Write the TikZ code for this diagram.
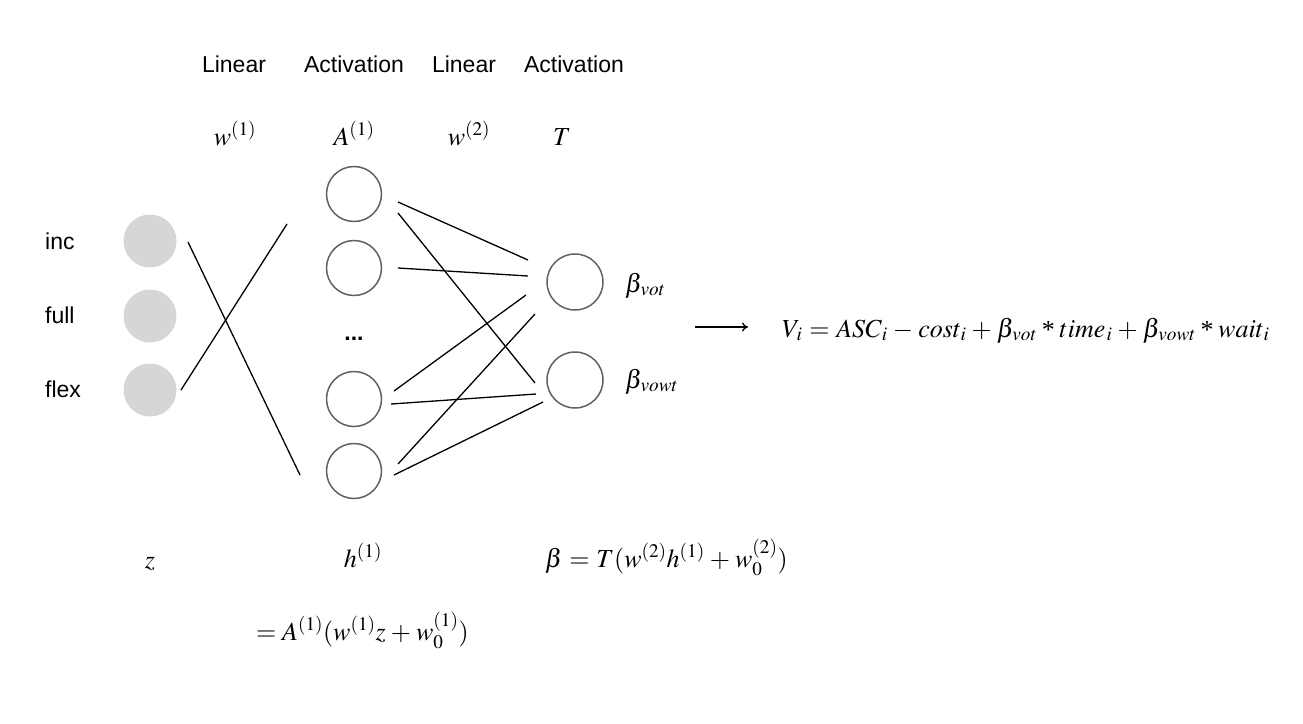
\documentclass[tikz,border=0pt]{standalone}
\usepackage{mathptmx}
\usepackage[no-math]{fontspec}
\setmainfont{Liberation Serif}
\setsansfont{Liberation Sans}
\usetikzlibrary{arrows.meta}
\newcommand{\mysb}[1]{_{\kern1.2pt #1}}
\newcommand{\myast}{\mathbin{\kern1pt\raisebox{-0.15ex}{*}\kern1pt}}
\newcommand{\mypl}{\mathbin{\kern1.5pt+\kern1.5pt}}
\newcommand{\mymi}{\mathbin{\kern1.5pt-\kern1.5pt}}
\newcommand{\myeq}{\mathrel{\kern1pt=\kern1pt}}
\begin{document}
\begin{tikzpicture}[x=1pt,y={(0pt,-1pt)},
  inp/.style={circle,fill=black!16,draw=none,minimum size=53pt,inner sep=0pt},
  neuron/.style={circle,draw=black!62,line width=1.5pt,fill=white,minimum size=55pt,inner sep=0pt},
  conn/.style={black,line width=1.3pt},
  lab/.style={font=\fontsize{23}{27}\selectfont\sffamily,anchor=base,inner sep=0pt},
  inlab/.style={font=\fontsize{23}{27}\selectfont\sffamily,anchor=base west,inner sep=0pt},
  mth/.style={font=\fontsize{26}{30}\selectfont,anchor=base,inner sep=0pt},
  mthw/.style={font=\fontsize{26}{30}\selectfont,anchor=base west,inner sep=0pt}]
\useasboundingbox (0,0) rectangle (1303,723);
% top labels
\node[lab] (l1) at (234,72) {Linear};
\node[lab] (l2) at (354,72) {Activation};
\node[lab] (l3) at (464,72) {Linear};
\node[lab] (l4) at (574,72) {Activation};
\node[mth] (m1) at (235,145) {$w^{(1)}$};
\node[mth] (m2) at (354,145) {$A^{(1)}$};
\node[mth] (m3) at (469,145) {$w^{(2)}$};
\node[mth] (m4) at (562,145) {$T$};
% inputs
\node[inp] (i1) at (150,241) {};
\node[inp] (i2) at (150,316) {};
\node[inp] (i3) at (150,390) {};
\node[inlab] (t1) at (45,249) {inc};
\node[inlab] (t2) at (45,323) {full};
\node[inlab] (t3) at (45,397) {flex};
% hidden
\node[neuron] (h1) at (354,194) {};
\node[neuron] (h2) at (354,268) {};
\node[neuron] (h3) at (354,399) {};
\node[neuron] (h4) at (354,471) {};
\node[font=\fontsize{23}{27}\selectfont\sffamily\bfseries,inner sep=0pt] (dots) at (354,339) {...};
% outputs
\node[neuron,minimum size=56pt] (o1) at (575,282) {};
\node[neuron,minimum size=56pt] (o2) at (575,380) {};
\node[mthw] (b1) at (625,292) {$\beta\mysb{vot}$};
\node[mthw] (b2) at (625,388) {$\beta\mysb{vowt}$};
% connector end points
\coordinate (xa1) at (188,242); \coordinate (xa2) at (300,475);
\coordinate (xb1) at (181,390); \coordinate (xb2) at (287,224);
\coordinate (ca1) at (398,202); \coordinate (ca2) at (528,260);
\coordinate (cb1) at (398,213); \coordinate (cb2) at (535,383);
\coordinate (cc1) at (398,268); \coordinate (cc2) at (528,276);
\coordinate (cd1) at (394,391); \coordinate (cd2) at (526,295);
\coordinate (ce1) at (391,404); \coordinate (ce2) at (536,394);
\coordinate (cf1) at (398,464); \coordinate (cf2) at (535,314);
\coordinate (cg1) at (394,475); \coordinate (cg2) at (543,402);
\draw[conn] (xa1) -- (xa2);
\draw[conn] (xb1) -- (xb2);
\draw[conn] (ca1) -- (ca2);
\draw[conn] (cb1) -- (cb2);
\draw[conn] (cc1) -- (cc2);
\draw[conn] (cd1) -- (cd2);
\draw[conn] (ce1) -- (ce2);
\draw[conn] (cf1) -- (cf2);
\draw[conn] (cg1) -- (cg2);
% arrow and formula
\coordinate (ar1) at (695,327); \coordinate (ar2) at (748,327);
\draw[conn,-{To[length=6pt,width=9pt]}] (ar1) -- (ar2);
\node[mthw] (V) at (782,337) {$V\mysb{i} \myeq ASC\mysb{i} \mymi cost\mysb{i} \mypl \beta\mysb{vot} \myast time\mysb{i} \mypl \beta\mysb{vowt} \myast wait\mysb{i}$};
% bottom
\node[mth] (z) at (150,568) {$z$};
\node[mth] (h) at (363,567) {$h^{(1)}$};
\node[mthw] (beta) at (545,567) {$\beta \myeq T(w^{(2)}h^{(1)} \mypl w_0^{(2)})$};
\node[mthw] (eq) at (256,640) {$= A^{(1)}(w^{(1)}z \mypl w_0^{(1)})$};
\end{tikzpicture}
\end{document}
